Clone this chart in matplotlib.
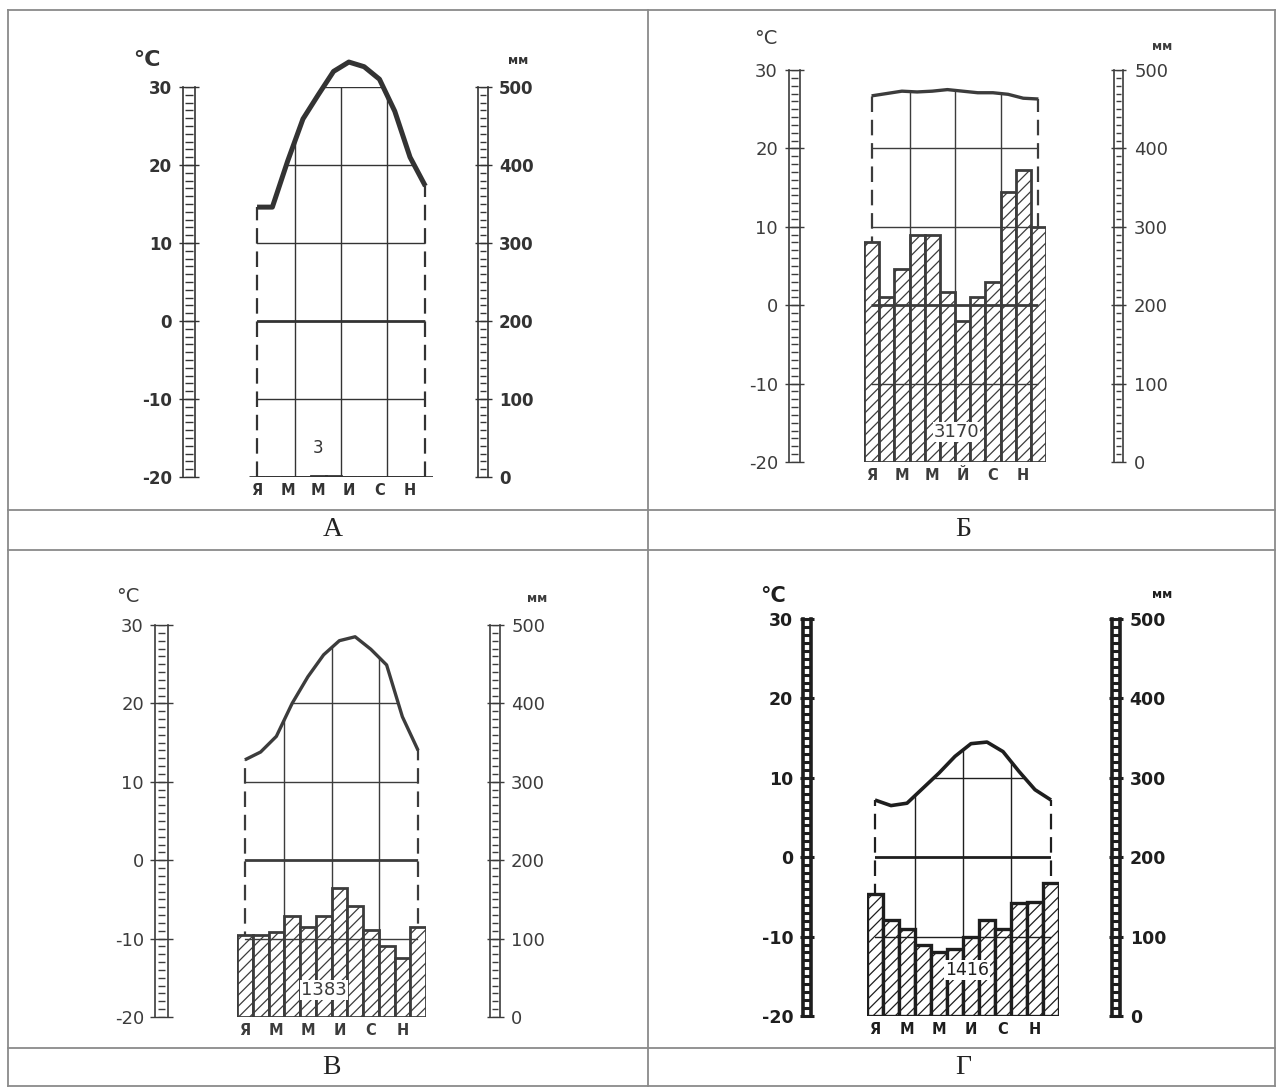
import matplotlib
matplotlib.use('Agg')
import matplotlib.pyplot as plt
import matplotlib.transforms as mtransforms
from matplotlib.patches import Polygon
from matplotlib.lines import Line2D
import numpy as np

W, H = 1277, 1088

# month initials, shown for every second month
month_labels = ['Я', 'М', 'М', 'И', 'С', 'Н']
month_labels_b = ['Я', 'М', 'М', 'Й', 'С', 'Н']

# mean monthly temperature, deg C
temp_a = [14.6, 14.6, 20.5, 25.9, 29.0, 32.0, 33.2, 32.6, 31.0, 26.9, 21.0, 17.3]
temp_b = [26.7, 27.0, 27.3, 27.2, 27.3, 27.5, 27.3, 27.1, 27.1, 26.9, 26.4, 26.3]
temp_v = [12.8, 13.8, 15.8, 20.0, 23.4, 26.2, 28.0, 28.5, 26.9, 24.9, 18.3, 14.0]
temp_g = [7.2, 6.5, 6.8, 8.7, 10.6, 12.7, 14.3, 14.5, 13.3, 10.8, 8.5, 7.2]

# monthly precipitation, mm
prec_a = [0, 0, 0, 0, 1.5, 1, 0, 0, 0, 0.5, 0, 0]
prec_b = [281, 211, 246, 290, 290, 217, 180, 210, 229, 345, 372, 300]
prec_v = [105, 105, 109, 129, 115, 129, 164, 141, 111, 90, 75, 115]
prec_g = [154, 121, 110, 89, 81, 85, 100, 121, 110, 142, 144, 167]

# yearly totals as printed
total_a = '3'
total_b = '3170'
total_v = '1383'
total_g = '1416'

plt.rcParams['font.family'] = ['DejaVu Sans']
plt.rcParams['axes.unicode_minus'] = False
plt.rcParams['hatch.linewidth'] = 0.9

fig = plt.figure(figsize=(W / 100, H / 100), dpi=100)


def box(x0, x1, y0, y1):
    return [x0 / W, 1 - y1 / H, (x1 - x0) / W, (y1 - y0) / H]


def ladder(rect, lim, step, ticks, side, st):
    a = fig.add_axes(rect)
    a.set_ylim(*lim)
    a.set_xlim(0, 1)
    a.patch.set_visible(False)
    for k in ('top', 'bottom'):
        a.spines[k].set_visible(False)
    for k in ('left', 'right'):
        a.spines[k].set_linewidth(st['rail'])
        a.spines[k].set_color(st['ink'])
    a.hlines(np.arange(lim[0], lim[1] + 0.1, step), st['rung0'], 1 - st['rung0'],
             color=st['ink'], lw=st['rung'])
    a.hlines(ticks, -0.35, 1.35, color=st['ink'], lw=st['tickw'], clip_on=False)
    a.set_xticks([])
    a.set_yticks(ticks)
    a.tick_params(axis='y', length=0, pad=st['pad'], labelsize=st['fs'],
                  labelcolor=st['ink'],
                  labelleft=(side == 'left'), labelright=(side == 'right'))
    for t in a.get_yticklabels():
        t.set_fontweight(st['fw'])
    return a


def panel(temp, prec, total, labels, lay, st):
    ink = st['ink']
    ax = fig.add_axes(box(lay['bx0'], lay['bx1'], lay['y30'], lay['ym20']))
    ax.set_xlim(0, 12)
    ax.set_ylim(-20, 30)
    ax.patch.set_visible(False)
    for s in ax.spines.values():
        s.set_visible(False)
    ax.set_yticks([])
    centers = np.arange(12) + 0.5
    ax.set_xticks(centers[::2], labels)
    ax.tick_params(axis='x', length=0, pad=4, labelsize=10.5, labelcolor=ink)
    for t in ax.get_xticklabels():
        t.set_fontweight('bold')

    ladder(box(lay['lx'][0], lay['lx'][1], lay['y30'], lay['ym20']),
           (-20, 30), 1, list(range(-20, 31, 10)), 'left', st)
    axr = ladder(box(lay['rx'][0], lay['rx'][1], lay['y30'], lay['ym20']),
                 (0, 500), 10, list(range(0, 501, 100)), 'right', st)

    # bars in mm, through the mm scale of the right ladder
    mm = mtransforms.blended_transform_factory(ax.transData, axr.transData)
    ax.bar(centers, prec, width=1, bottom=0, transform=mm, facecolor='white',
           edgecolor=ink, linewidth=st['barw'], hatch=st['hatch'], zorder=2)

    # region under the temperature curve
    region = Polygon([(centers[0], -20)] + list(zip(centers, temp)) + [(centers[-1], -20)],
                     closed=True, transform=ax.transData)
    g1 = ax.hlines([30, 20, 10, -10], 0, 12, color=ink, lw=1.0, zorder=3)
    g2 = ax.hlines([0], 0, 12, color=ink, lw=2.0, zorder=3)
    g3 = ax.vlines([3, 6, 9], -20, 40, color=ink, lw=1.0, zorder=3)
    for g in (g1, g2, g3):
        g.set_clip_path(region)

    ax.vlines([centers[0], centers[-1]], -20, [temp[0], temp[-1]], color=ink, lw=1.6,
              linestyles=(0, (7, 3.5)), zorder=1)
    ax.hlines(-20, centers[0], centers[-1], color=ink, lw=2.0, zorder=1)
    ax.plot(centers, temp, color=ink, lw=st['curve'], solid_capstyle='butt',
            solid_joinstyle='round', zorder=4, clip_on=False)

    ax.text(lay['tx'], lay['ty'], total, ha='center', va='center', fontsize=st['fs'],
            color=ink, zorder=5,
            bbox=dict(facecolor='white', edgecolor='none', pad=0.8))

    fig.text(lay['degc'][0] / W, 1 - lay['degc'][1] / H, '°C', ha='center', va='center',
             fontsize=st['degfs'], fontweight=st['fw'], color=ink)
    fig.text(lay['mm'][0] / W, 1 - lay['mm'][1] / H, 'мм', ha='center', va='center',
             fontsize=9, fontweight='bold', color=ink)
    fig.text(lay['letter'][0] / W, 1 - lay['letter'][1] / H, lay['name'], ha='center',
             va='center', fontsize=20, family='Liberation Serif', color='#222222')


light = dict(ink='#3c3c3c', rail=1.2, rung=1.0, rung0=0.2, tickw=1.0, fs=13, fw='normal',
             barw=2.0, hatch='///', curve=2.4, pad=8, degfs=14)
bold_a = dict(light, ink='#333333', fw='bold', fs=12, curve=3.6, degfs=16)
heavy = dict(ink='#1e1e1e', rail=2.6, rung=2.2, rung0=0.0, tickw=2.2, fs=12.5, fw='bold',
             barw=2.4, hatch='///', curve=2.6, pad=7, degfs=15)

lay_a = dict(bx0=249.4, bx1=433.0, y30=87, ym20=477, lx=(183, 195), rx=(478, 488),
             degc=(147, 60), mm=(518, 60), tx=4.5, ty=-16.3, letter=(333, 530), name='А')
lay_b = dict(bx0=864, bx1=1046, y30=70, ym20=462, lx=(789, 800), rx=(1114, 1123),
             degc=(766, 38), mm=(1162, 47), tx=6.1, ty=-16.2, letter=(963, 530), name='Б')
lay_v = dict(bx0=237, bx1=426, y30=625, ym20=1017, lx=(155, 168), rx=(490, 500),
             degc=(128, 597), mm=(537, 598), tx=5.5, ty=-16.6, letter=(331, 1068), name='В')
lay_g = dict(bx0=867, bx1=1059, y30=619, ym20=1016, lx=(803, 811), rx=(1112, 1120),
             degc=(773, 596), mm=(1162, 595), tx=6.25, ty=-14.2, letter=(963, 1068), name='Г')

panel(temp_a, prec_a, total_a, month_labels, lay_a, bold_a)
panel(temp_b, prec_b, total_b, month_labels_b, lay_b, light)
panel(temp_v, prec_v, total_v, month_labels, lay_v, light)
panel(temp_g, prec_g, total_g, month_labels, lay_g, heavy)

# table frame
rule = dict(color='#8a8a8a', lw=1.3)
for y in (10, 510, 550, 1048, 1086):
    fig.add_artist(Line2D([8 / W, 1275 / W], [1 - y / H, 1 - y / H], **rule))
for x in (8, 648, 1275):
    fig.add_artist(Line2D([x / W, x / W], [1 - 10 / H, 1 - 1086 / H], **rule))

fig.savefig('out.png', dpi=100, facecolor='white')
